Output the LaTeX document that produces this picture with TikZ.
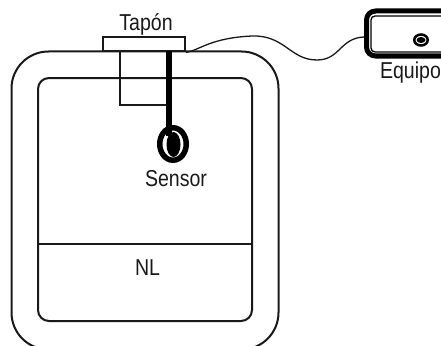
\documentclass[tikz,border=0pt]{standalone}
\usepackage{fontspec}
\setmainfont[FakeStretch=0.85]{Liberation Sans}
\usetikzlibrary{shapes.geometric}
\begin{document}
\begin{tikzpicture}[
    x=1pt, y=-1pt,
    wall/.style={rectangle, draw=black!90, line width=2pt, minimum width=#1, inner sep=0pt},
    caption/.style={inner sep=0pt, font=\fontsize{23}{23}\selectfont, text=black!90},
    wire/.style={draw=black!90, line width=1.3pt}
]
\useasboundingbox (0,0) rectangle (441,345);

% vessel
\node[wall=267pt, minimum height=298pt, rounded corners=37pt] (vessel) at (145,200.5) {};
\node[wall=214pt, minimum height=243pt, rounded corners=11pt] (chamber) at (145,199.5) {};
\draw[draw=black!90, line width=2pt] (chamber.west |- 0,244) coordinate (levelL) -- (chamber.east |- 0,244) coordinate (levelR);

% plug
\node[wall=82pt, minimum height=14pt, fill=white] (plug) at (144,44.5) {};
\node[wall=49pt, minimum height=53pt] (well) at (144.5,78) {};

% sensor
\coordinate (rodtop) at (169,51);
\node[ellipse, draw=black, line width=5.5pt, minimum width=26.5pt, minimum height=32.5pt, inner sep=0pt, fill=white] (probe) at (173,144) {};
\node[ellipse, fill=black, minimum width=14pt, minimum height=25pt, inner sep=0pt] (core) at (173.5,144.5) {};
\draw[line width=5.5pt, draw=black] (rodtop) -- (169,136) coordinate (rodend);

% instrument
\node[rectangle, draw=black, line width=5pt, rounded corners=9pt, minimum width=100pt, minimum height=45pt, inner sep=0pt] (box) at (416.5,33.5) {};
\node[rectangle, draw=black, line width=1.3pt, rounded corners=4pt, minimum width=90pt, minimum height=36pt, inner sep=0pt] (screen) at (416,34) {};
\node[ellipse, draw=black, line width=2.5pt, minimum width=13.5pt, minimum height=11pt, inner sep=0pt] (lens) at (421,40) {};
\node[ellipse, fill=black, minimum width=9pt, minimum height=6pt, inner sep=0pt] (lenscore) at (421,40) {};

% cable
\draw[wire] (plug.south east) .. controls (200,50) and (210,38) .. (252,36)
    .. controls (285,35) and (290,60) .. (317,60)
    .. controls (340,60) and (340,38) .. (box.west |- 0,37);

\node[caption] (tapon) at (146,24) {Tapón};
\node[caption] (sensor) at (176,179) {Sensor};
\node[caption] (nl) at (147.5,268) {NL};
\node[caption] (equipo) at (410.5,73) {Equipo};
\end{tikzpicture}
\end{document}
